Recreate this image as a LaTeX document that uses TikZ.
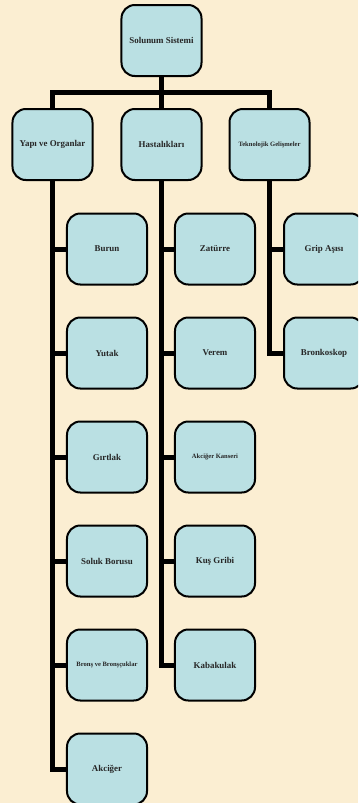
\documentclass[tikz,border=0pt]{standalone}
\usepackage{fontspec}
\setmainfont{Liberation Serif}
\definecolor{parchment}{RGB}{251,238,210}
\definecolor{boxblue}{RGB}{186,224,227}
\tikzset{
	orgbox/.style = {draw, line width=0.06cm, rounded corners=0.4cm, fill=boxblue,
		minimum width=2.4cm, minimum height=2.13cm, inner sep=0pt, align=center,
		text=black!85, font=\fontsize{7.6}{9}\selectfont\bfseries},
	smalltext/.style = {font=\fontsize{5.6}{6.5}\selectfont\bfseries},
	link/.style = {line width=0.15cm}
}
\begin{document}
\begin{tikzpicture}[x=0.03cm, y=-0.03cm]
	\clip (0,0) rectangle (358,803);
	\fill [parchment] (0,0) rectangle (358,803);
	%top
	\node [orgbox] (solunum) at (161.5, 40.5) {Solunum Sistemi};
	%second row
	\node [orgbox] (yapi) at (52.5, 144.5) {Yap\i{} ve Organlar};
	\node [orgbox] (hastalik) at (161.5, 144.5) {Hastal\i{}klar\i};
	\node [orgbox, smalltext] (teknoloji) at (269.5, 144.5) {Teknolojik Geli\c{s}meler};
	%left column
	\node [orgbox] (burun) at (107, 249) {Burun};
	\node [orgbox] (yutak) at (107, 353) {Yutak};
	\node [orgbox] (girtlak) at (107, 457) {G\i{}rtlak};
	\node [orgbox] (soluk) at (107, 561) {Soluk Borusu};
	\node [orgbox, smalltext] (bronslar) at (107, 665) {Bron\c{s} ve Bron\c{s}\c{c}uklar};
	\node [orgbox] (akciger) at (107, 769) {Akci\u{g}er};
	%middle column
	\node [orgbox] (zaturre) at (215, 249) {Zat\"urre};
	\node [orgbox] (verem) at (215, 353) {Verem};
	\node [orgbox, smalltext] (kanser) at (215, 457) {Akci\u{g}er Kanseri};
	\node [orgbox] (kusgribi) at (215, 561) {Ku\c{s} Gribi};
	\node [orgbox] (kabakulak) at (215, 665) {Kabakulak};
	%right column
	\node [orgbox] (grip) at (324, 249) {Grip A\c{s}\i{}s\i};
	\node [orgbox] (bronkoskop) at (324, 353) {Bronkoskop};
	%connectors
	\coordinate (bar) at (161.5, 92.5);
	\draw [link] (solunum.south) -- (bar);
	\draw [link] (bar) -| (yapi.north) (bar) -| (teknoloji.north) (bar) -- (hastalik.north);
	\foreach \child in {burun, yutak, girtlak, soluk, bronslar, akciger}
		\draw [link] (yapi.south) |- (\child.west);
	\foreach \child in {zaturre, verem, kanser, kusgribi, kabakulak}
		\draw [link] (hastalik.south) |- (\child.west);
	\foreach \child in {grip, bronkoskop}
		\draw [link] (teknoloji.south) |- (\child.west);
\end{tikzpicture}
\end{document}
